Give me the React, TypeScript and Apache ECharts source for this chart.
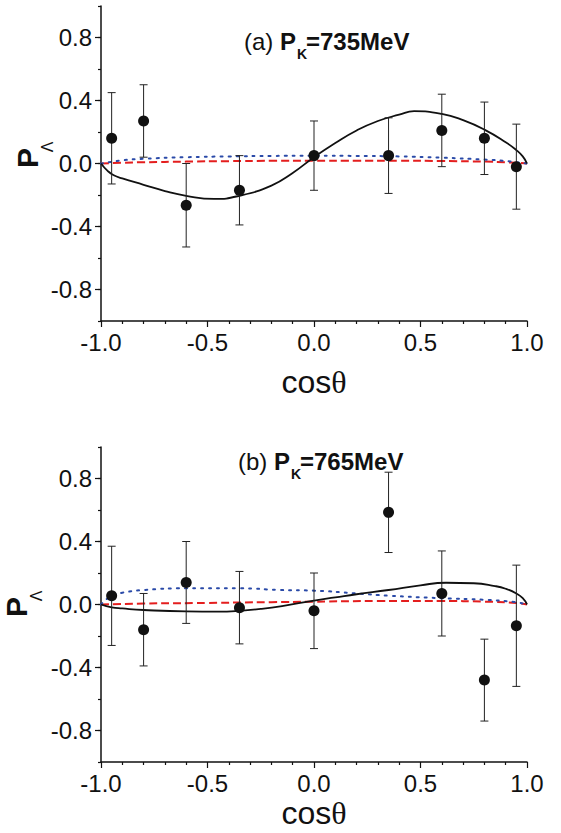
import React, { useEffect, useRef } from 'react';
import * as echarts from 'echarts';

// Measured points (cosθ, P_Λ, error)
const ptX = [-0.95, -0.8, -0.6, -0.35, 0, 0.35, 0.6, 0.8, 0.95];
const ptYA = [0.16, 0.27, -0.265, -0.17, 0.05, 0.05, 0.21, 0.16, -0.02];
const ptErrA = [0.29, 0.23, 0.265, 0.22, 0.22, 0.24, 0.23, 0.23, 0.27];
const ptYB = [0.055, -0.16, 0.14, -0.02, -0.04, 0.585, 0.07, -0.48, -0.135];
const ptErrB = [0.315, 0.23, 0.26, 0.23, 0.24, 0.255, 0.27, 0.26, 0.385];

// Panel (a) curves
const solidAX = [-1, -0.97, -0.94, -0.9, -0.8, -0.7, -0.6, -0.47, -0.35, -0.2, -0.1, 0, 0.1, 0.2, 0.3, 0.4, 0.47, 0.6, 0.7, 0.8, 0.9, 0.95, 0.98, 1.0];
const solidAY = [0, -0.045, -0.075, -0.095, -0.135, -0.175, -0.205, -0.225, -0.205, -0.14, -0.06, 0.04, 0.13, 0.21, 0.27, 0.31, 0.332, 0.315, 0.275, 0.215, 0.135, 0.085, 0.045, 0];
const dotAX = [-1, -0.9, -0.8, -0.6, -0.4, -0.2, 0, 0.2, 0.4, 0.6, 0.8, 0.9, 1.0];
const dotAY = [0, 0.02, 0.03, 0.04, 0.045, 0.048, 0.05, 0.048, 0.045, 0.037, 0.025, 0.016, 0];
const dashAY = [0, 0.005, 0.008, 0.012, 0.015, 0.017, 0.018, 0.018, 0.018, 0.016, 0.012, 0.008, 0];

// Panel (b) curves
const solidBX = [-1, -0.95, -0.9, -0.8, -0.6, -0.45, -0.35, -0.25, -0.15, 0, 0.1, 0.2, 0.35, 0.5, 0.62, 0.75, 0.85, 0.9, 0.95, 0.98, 1.0];
const solidBY = [0, -0.018, -0.025, -0.035, -0.044, -0.045, -0.04, -0.028, -0.01, 0.025, 0.045, 0.065, 0.092, 0.122, 0.138, 0.135, 0.117, 0.1, 0.07, 0.04, 0];
const dotBX = [-1, -0.95, -0.9, -0.8, -0.6, -0.35, -0.16, 0, 0.2, 0.35, 0.6, 0.8, 0.94, 1.0];
const dotBY = [0, 0.056, 0.075, 0.092, 0.103, 0.103, 0.092, 0.088, 0.07, 0.056, 0.04, 0.03, 0.016, 0];
const dashBX = [-1, -0.8, -0.5, -0.2, 0, 0.3, 0.6, 0.8, 0.95, 1];
const dashBY = [0, 0.006, 0.01, 0.015, 0.018, 0.022, 0.022, 0.018, 0.01, 0];

const xTicks = { min: -1, max: 1, interval: 0.5 };
const yTicks = { min: -1, max: 1, interval: 0.2 };
const yMajor = { min: -0.8, max: 0.8, interval: 0.4 };

const titles = [
  { tag: '(a) ', sub: 'K', rest: '=735MeV' },
  { tag: '(b) ', sub: 'K', rest: '=765MeV' },
];

const FONT = '"Liberation Sans", Arial, Helvetica, sans-serif';
const SERIF = '"Liberation Serif", "DejaVu Serif", serif';

function zip(xs: number[], ys: number[]) {
  return xs.map((x, i) => [x, ys[i]]);
}

export default function App() {
  const ref = useRef<HTMLDivElement>(null);
  useEffect(() => {
    document.body.style.margin = '0';
    const chart = echarts.init(ref.current!, null, { renderer: 'svg' });

    const panelTop = [6, 447];
    const gridLeft = 101;
    const gridW = 426;
    const gridH = 315;
    const labelStyle = { fontSize: 24, fontFamily: FONT, color: '#111' };

    const grids: any[] = [];
    const xAxes: any[] = [];
    const yAxes: any[] = [];
    panelTop.forEach((t, i) => {
      grids.push({ left: gridLeft, top: t, width: gridW, height: gridH, containLabel: false });
      xAxes.push({
        type: 'value', gridIndex: i, ...xTicks,
        axisLine: { onZero: false, lineStyle: { color: '#111', width: 1.5 } },
        axisTick: { length: 6, lineStyle: { color: '#111', width: 1.2 } },
        minorTick: { show: true, splitNumber: 5, length: 3, lineStyle: { color: '#111', width: 1.2 } },
        splitLine: { show: false },
        axisLabel: { ...labelStyle, margin: 9, formatter: (v: number) => v.toFixed(1) },
      });
      yAxes.push({
        type: 'value', gridIndex: i, ...yTicks,
        axisLine: { onZero: false, lineStyle: { color: '#111', width: 1.5 } },
        axisTick: { length: 3, lineStyle: { color: '#111', width: 1.2 } },
        splitLine: { show: false },
        axisLabel: { show: false },
      });
    });
    // major tick + label overlays for y axes
    panelTop.forEach((t, i) => {
      grids.push({ left: gridLeft, top: t + 0.2 * (gridH / 2), width: gridW, height: gridH * 0.8, containLabel: false });
      xAxes.push({ type: 'value', gridIndex: 2 + i, show: false, min: -1, max: 1 });
      yAxes.push({
        type: 'value', gridIndex: 2 + i, ...yMajor,
        axisLine: { show: false, onZero: false },
        axisTick: { length: 6, lineStyle: { color: '#111', width: 1.2 } },
        splitLine: { show: false },
        axisLabel: { ...labelStyle, margin: 9, formatter: (v: number) => v.toFixed(1) },
      });
    });

    const errRender = (params: any, api: any) => {
      const x = api.value(0);
      const lo = api.coord([x, api.value(1)]);
      const hi = api.coord([x, api.value(2)]);
      const cap = 4;
      const style = { stroke: '#222', lineWidth: 1 };
      return {
        type: 'group',
        children: [
          { type: 'line', shape: { x1: lo[0], y1: lo[1], x2: hi[0], y2: hi[1] }, style },
          { type: 'line', shape: { x1: lo[0] - cap, y1: lo[1], x2: lo[0] + cap, y2: lo[1] }, style },
          { type: 'line', shape: { x1: hi[0] - cap, y1: hi[1], x2: hi[0] + cap, y2: hi[1] }, style },
        ],
      };
    };

    const panels = [
      { ys: ptYA, errs: ptErrA, solid: zip(solidAX, solidAY), dot: zip(dotAX, dotAY), dash: zip(dotAX, dashAY) },
      { ys: ptYB, errs: ptErrB, solid: zip(solidBX, solidBY), dot: zip(dotBX, dotBY), dash: zip(dashBX, dashBY) },
    ];

    const series: any[] = [];
    panels.forEach((p, i) => {
      const ax = { xAxisIndex: i, yAxisIndex: i };
      series.push({
        type: 'line', ...ax, data: p.dash, showSymbol: false, smooth: true, z: 3,
        lineStyle: { color: '#e41e1e', width: 2, type: [8, 4] },
      });
      series.push({
        type: 'line', ...ax, data: p.dot, showSymbol: false, smooth: true, z: 3,
        lineStyle: { color: '#2a4aa8', width: 2, type: [2, 6], cap: 'round' },
      });
      series.push({
        type: 'line', ...ax, data: p.solid, showSymbol: false, smooth: true, z: 4,
        lineStyle: { color: '#111', width: 1.8 },
      });
      series.push({
        type: 'custom', ...ax, renderItem: errRender, z: 5,
        data: ptX.map((x, k) => [x, p.ys[k] - p.errs[k], p.ys[k] + p.errs[k]]),
        encode: { x: 0, y: [1, 2] },
      });
      series.push({
        type: 'scatter', ...ax, data: zip(ptX, p.ys), symbol: 'circle', symbolSize: 11, z: 6,
        itemStyle: { color: '#111', opacity: 1 },
      });
    });

    const graphics: any[] = [];
    const titleY = [41, 461];
    const tagX = [244, 238];
    titles.forEach((tt, i) => {
      const y = titleY[i];
      const x0 = tagX[i];
      graphics.push({
        type: 'text', x: x0, y,
        style: { text: '{a|' + tt.tag + '}{b|P}', rich: { a: { fontSize: 24, fontFamily: FONT, fill: '#111' }, b: { fontSize: 24, fontWeight: 'bold', fontFamily: FONT, fill: '#111' } }, align: 'left', verticalAlign: 'middle' },
      });
      graphics.push({
        type: 'text', x: x0 + 53, y: y + 13,
        style: { text: tt.sub, fontSize: 14, fontWeight: 'bold', fontFamily: FONT, fill: '#111', align: 'left', verticalAlign: 'middle' },
      });
      graphics.push({
        type: 'text', x: x0 + 62, y,
        style: { text: tt.rest, fontSize: 24, fontWeight: 'bold', fontFamily: FONT, fill: '#111', align: 'left', verticalAlign: 'middle' },
      });
    });
    // axis names
    const pPos = [[27, 158, 47, 147], [16, 607, 36, 596]];
    pPos.forEach(([px, py, lx, ly]) => {
      graphics.push({
        type: 'text', x: px, y: py, rotation: Math.PI / 2,
        style: { text: 'P', fontSize: 30, fontWeight: 'bold', fontFamily: FONT, fill: '#111', align: 'center', verticalAlign: 'middle' },
      });
      graphics.push({
        type: 'text', x: lx, y: ly, rotation: Math.PI / 2,
        style: { text: 'Λ', fontSize: 16, fontFamily: FONT, fill: '#111', align: 'center', verticalAlign: 'middle' },
      });
    });
    [382, 813].forEach((y) => {
      graphics.push({
        type: 'text', x: 314, y,
        style: {
          text: '{c|cos}{t|θ}',
          rich: { c: { fontSize: 32, fontFamily: FONT, fill: '#111' }, t: { fontSize: 32, fontFamily: SERIF, fill: '#111' } },
          align: 'center', verticalAlign: 'middle',
        },
      });
    });

    chart.setOption({
      animation: false,
      backgroundColor: '#ffffff',
      grid: grids,
      xAxis: xAxes,
      yAxis: yAxes,
      series,
      graphic: graphics,
    });
    return () => chart.dispose();
  }, []);
  return <div ref={ref} style={{ width: 561, height: 833 }} />;
}
